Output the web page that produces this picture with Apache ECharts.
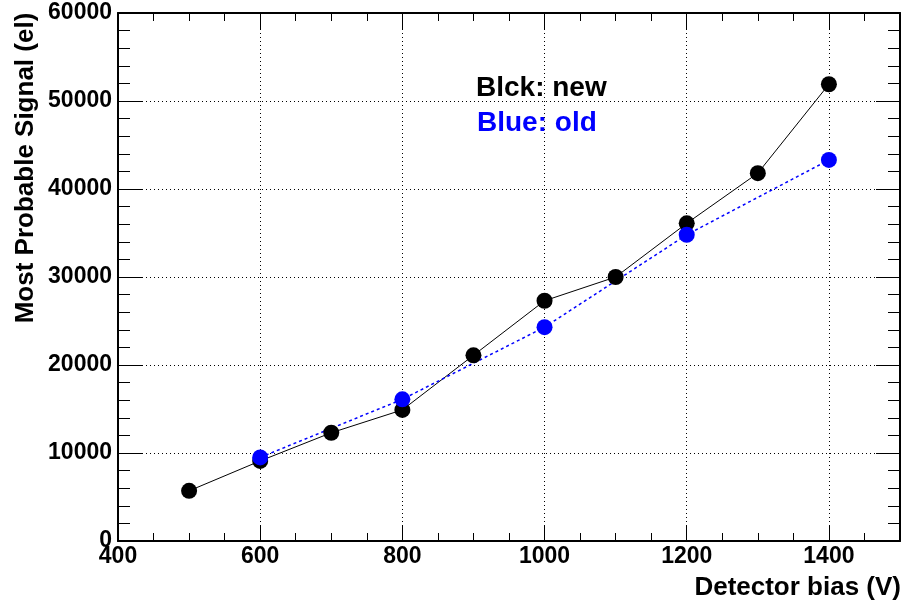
<!DOCTYPE html>
<html>
<head>
<meta charset="utf-8">
<script src="https://cdn.jsdelivr.net/npm/echarts@6/dist/echarts.min.js"></script>
<style>html,body{margin:0;padding:0;background:#fff}#c{width:914px;height:604px}</style>
</head>
<body>
<div id="c"></div>
<script>
// Data
const newBias = [500, 600, 700, 800, 900, 1000, 1100, 1200, 1300, 1400];
const newSignal = [5700, 9100, 12300, 14900, 21100, 27300, 30000, 36100, 41800, 51900];
const oldBias = [600, 800, 1000, 1200, 1400];
const oldSignal = [9500, 16100, 24300, 34800, 43300];
const xTitle = 'Detector bias (V)';
const yTitle = 'Most Probable Signal (el)';
const legendNew = 'Blck: new';
const legendOld = 'Blue: old';

const FONT = "'Liberation Sans', Arial, sans-serif";
const chart = echarts.init(document.getElementById('c'), null, {renderer: 'canvas'});

const xCommon = {
  type: 'value', min: 400, max: 1500, interval: 200,
  axisLine: {show: true, onZero: false, lineStyle: {color: '#000', width: 2}},
  axisTick: {show: true, inside: true, length: 16, lineStyle: {color: '#000', width: 1}},
  minorTick: {show: true, splitNumber: 4, length: 8, lineStyle: {color: '#000', width: 1}},
};
const yCommon = {
  type: 'value', min: 0, max: 60000, interval: 10000,
  axisLine: {show: true, onZero: false, lineStyle: {color: '#000', width: 2}},
  axisTick: {show: true, inside: true, length: 24, lineStyle: {color: '#000', width: 1}},
  minorTick: {show: true, splitNumber: 5, length: 12, lineStyle: {color: '#000', width: 1}},
};

chart.setOption({
  animation: false,
  backgroundColor: '#fff',
  grid: {left: 118, right: 14, top: 13, bottom: 63, containLabel: false},
  xAxis: [
    Object.assign({}, xCommon, {
      position: 'bottom',
      axisLabel: {
        show: true, margin: 4, color: '#000', fontFamily: FONT, fontWeight: 'bold', fontSize: 23,
        showMaxLabel: false,
        formatter: v => (v % 200 === 0 ? String(v) : '')
      },
      splitLine: {show: true, lineStyle: {color: '#000', width: 1, type: [1, 3]}}
    }),
    Object.assign({}, xCommon, {
      position: 'top',
      axisLabel: {show: false},
      splitLine: {show: false}
    })
  ],
  yAxis: [
    Object.assign({}, yCommon, {
      position: 'left',
      axisLabel: {show: true, margin: 6, color: '#000', fontFamily: FONT, fontWeight: 'bold', fontSize: 23,
        formatter: v => String(v)},
      splitLine: {show: true, lineStyle: {color: '#000', width: 1, type: [1, 3]}}
    }),
    Object.assign({}, yCommon, {
      position: 'right',
      axisLabel: {show: false},
      splitLine: {show: false}
    })
  ],
  series: [
    {
      name: 'new', type: 'line', xAxisIndex: 0, yAxisIndex: 0,
      data: newBias.map((x, i) => [x, newSignal[i]]),
      symbol: 'circle', symbolSize: 16,
      itemStyle: {color: '#000'},
      lineStyle: {color: '#000', width: 1}
    },
    {
      name: 'old', type: 'line', xAxisIndex: 0, yAxisIndex: 0,
      data: oldBias.map((x, i) => [x, oldSignal[i]]),
      symbol: 'circle', symbolSize: 16,
      itemStyle: {color: '#0000ff'},
      lineStyle: {color: '#0000ff', width: 1.5, type: [3, 3]}
    }
  ],
  graphic: [
    {type: 'text', x: 901, y: 588, style: {text: xTitle, align: 'right', verticalAlign: 'middle',
      fill: '#000', font: "bold 26px " + FONT}},
    {type: 'text', x: 26, y: 168, rotation: Math.PI / 2, style: {text: yTitle, align: 'center', verticalAlign: 'middle',
      fill: '#000', font: "bold 26px " + FONT}},
    {type: 'text', x: 476, y: 88, style: {text: legendNew, align: 'left', verticalAlign: 'middle',
      fill: '#000', font: "bold 28px " + FONT}},
    {type: 'text', x: 477, y: 123, style: {text: legendOld, align: 'left', verticalAlign: 'middle',
      fill: '#0000ff', font: "bold 28px " + FONT}}
  ]
});
</script>
</body>
</html>
